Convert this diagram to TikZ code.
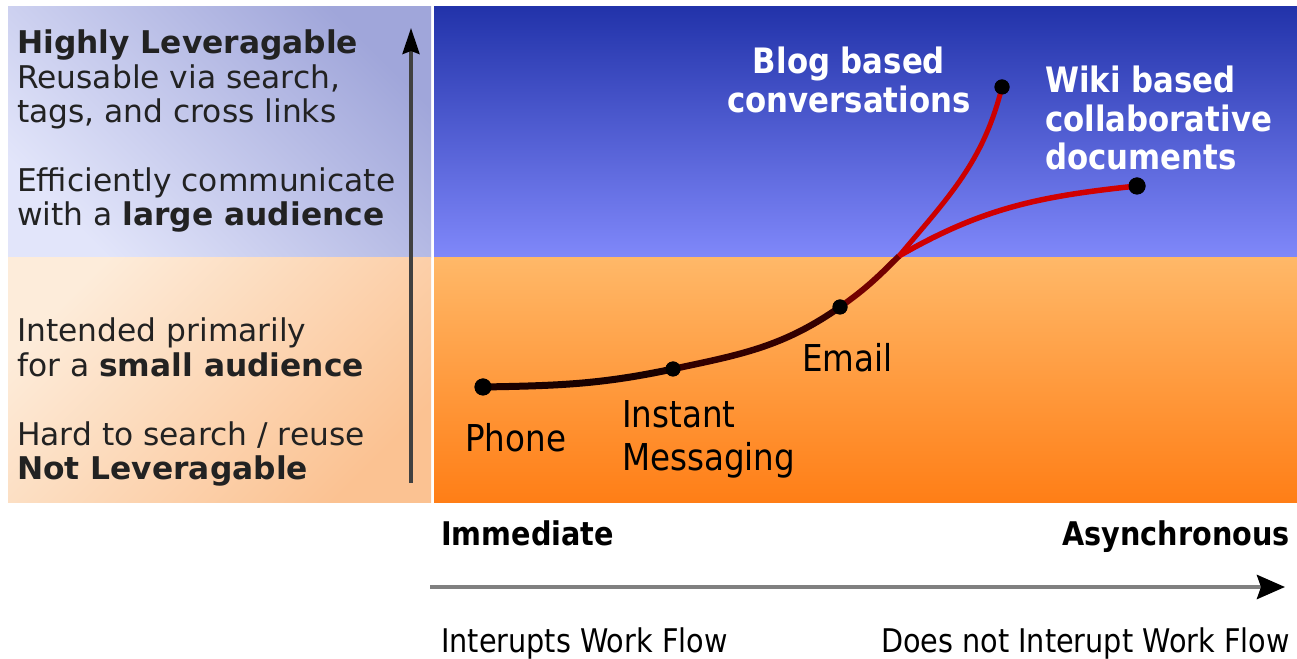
\documentclass[tikz,border=0pt]{standalone}
\usepackage{fontspec}
\setmainfont{DejaVu Sans}
\newfontfamily\condfont{DejaVu Sans}[FakeStretch=0.88]
\usetikzlibrary{arrows.meta}

\definecolor{lefttopdark}{HTML}{A0A6DA}
\definecolor{lefttoplight}{HTML}{E2E5FA}
\definecolor{leftbotlight}{HTML}{FDECDA}
\definecolor{leftbotdark}{HTML}{FBC292}
\definecolor{skytop}{HTML}{2233AA}
\definecolor{skybot}{HTML}{8088FA}
\definecolor{sandtop}{HTML}{FFB868}
\definecolor{sandbot}{HTML}{FF7E16}
\definecolor{inkgray}{HTML}{222222}

\begin{document}
\begin{tikzpicture}[x=1pt,y=1pt,
	dot/.style={circle,fill=black,inner sep=0pt,minimum size=15pt},
	sidetext/.style={align=left,inner sep=0pt,text=inkgray,font=\fontsize{31.3}{34.4}\selectfont},
	mediatext/.style={inner sep=0pt,text=black,font=\condfont\fontsize{37}{43}\selectfont},
	whitetext/.style={inner sep=0pt,text=white,font=\condfont\bfseries\fontsize{35}{38.5}\selectfont},
	axistext/.style={inner sep=0pt,text=black,font=\condfont\fontsize{32.6}{36}\selectfont}]

	\useasboundingbox[fill=white] (0,0) rectangle (1297,658);

	% background panels
	\fill[top color=lefttopdark,bottom color=lefttoplight,shading angle=-45] (8,651) rectangle (431,400);
	\fill[top color=leftbotlight,bottom color=leftbotdark,shading angle=45] (8,400) rectangle (431,155);
	\fill[top color=skytop,bottom color=skybot] (434,651) rectangle (1297,400);
	\fill[top color=sandtop,bottom color=sandbot] (434,400) rectangle (1297,155);

	% axes
	\coordinate (vbot) at (411,175);
	\coordinate (vtop) at (411,630);
	\draw[line width=3.5pt,color=black!75,-{Stealth[length=26pt,width=17pt,inset=3pt,color=black]}] (vbot) -- (vtop);
	\coordinate (hleft) at (430,71);
	\coordinate (hright) at (1285,71);
	\draw[line width=4.5pt,color=black!50,-{Stealth[length=28pt,width=24pt,inset=4pt,color=black]}] (hleft) -- (hright);

	% side texts
	\node[sidetext,anchor=north west] (upper) at (17,628)
		{\textbf{Highly Leveragable}\\Reusable via search,\\tags, and cross links\\[34.4pt]Efficiently communicate\\with a \textbf{large audience}};
	\node[sidetext,anchor=north west] (lower) at (17,340)
		{Intended primarily\\for a \textbf{small audience}\\[34.4pt]Hard to search / reuse\\\textbf{Not Leveragable}};

	% media points
	\node[dot,minimum size=17pt] (phone) at (483,271) {};
	\node[dot] (im) at (673,289) {};
	\node[dot] (email) at (840,351) {};
	\coordinate (fork) at (899,402);
	\node[dot] (blog) at (1002,571) {};
	\node[dot,minimum size=17pt] (wiki) at (1137,472) {};

	% curve
	\draw[line width=7pt,color=black!90!red] (phone.center) to[out=1,in=192] (im.center);
	\draw[line width=6.5pt,color=black!80!red] (im.center) to[out=12,in=215] (email.center);
	\draw[line width=6pt,color=black!55!red] (email.center) to[out=35,in=225] (fork);
	\draw[line width=5pt,color=red!80!black] (fork) to[out=50,in=256] (blog.center);
	\draw[line width=5.5pt,color=red!82!black] (fork) to[out=30,in=186] (wiki.center);
	\node[dot,minimum size=17pt] at (phone) {};
	\node[dot] at (im) {};
	\node[dot] at (email) {};
	\node[dot] at (blog) {};
	\node[dot,minimum size=17pt] at (wiki) {};

	% media labels
	\node[mediatext,anchor=base west] (phonelbl) at (465,206) {Phone};
	\node[mediatext,anchor=north west,align=left] (imlbl) at (622,258) {Instant\\Messaging};
	\node[mediatext,anchor=base west] (emaillbl) at (802,286) {Email};
	\node[whitetext,anchor=north,align=center] (bloglbl) at (849,611) {Blog based\\conversations};
	\node[whitetext,anchor=north west,align=left] (wikilbl) at (1045,592) {Wiki based\\collaborative\\documents};

	% axis labels
	\node[axistext,anchor=base west,font=\condfont\bfseries\fontsize{32.6}{36}\selectfont] (immed) at (441,112) {Immediate};
	\node[axistext,anchor=base east,font=\condfont\bfseries\fontsize{32.6}{36}\selectfont] (async) at (1290,112) {Asynchronous};
	\node[axistext,anchor=base west] (interr) at (441,6) {Interupts Work Flow};
	\node[axistext,anchor=base east] (nointerr) at (1290,6) {Does not Interupt Work Flow};
\end{tikzpicture}
\end{document}
